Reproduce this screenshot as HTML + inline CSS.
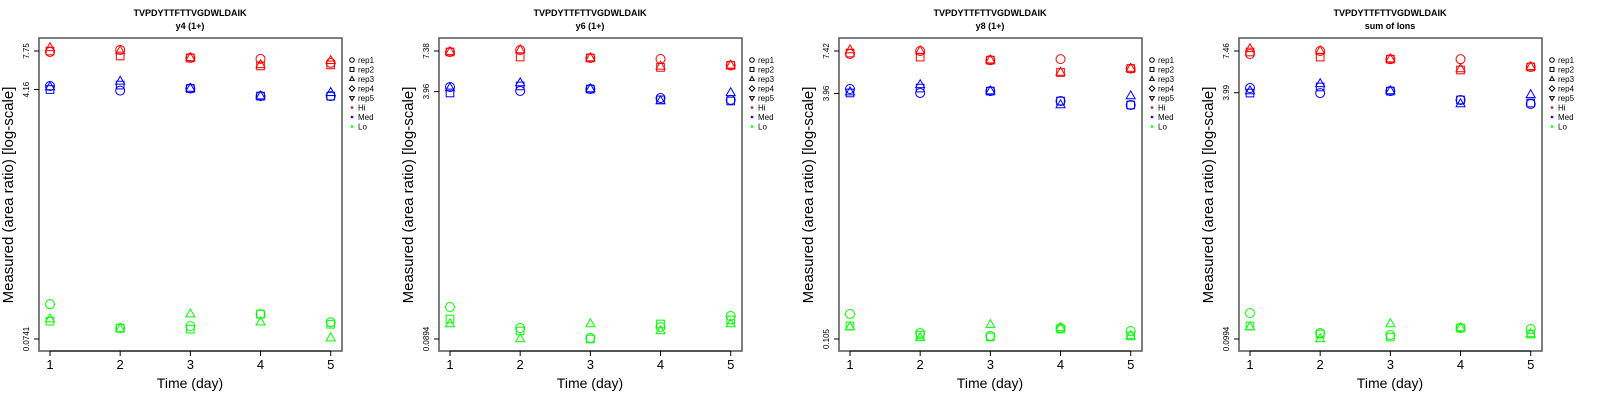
<!DOCTYPE html>
<html><head><meta charset="utf-8"><style>
body{margin:0;background:#fff;width:1600px;height:400px;overflow:hidden}
svg{display:block;font-family:"Liberation Sans",sans-serif}
</style></head><body>
<svg id="chart" width="1600" height="400" viewBox="0 0 1600 400"></svg>
<script>
const days=[1,2,3,4,5];
const reps=["rep1","rep2","rep3","rep4","rep5"];
const groups=["Hi","Med","Lo"];
const groupColors=["#ff0000","#0000ff","#00ff00"];
const panelTitles=["y4 (1+)","y6 (1+)","y8 (1+)","sum of Ions"];
const yTop=[7.75,7.38,7.42,7.46];
const yMid=[4.16,3.96,3.96,3.99];
const yBot=[0.0741,0.0894,0.105,0.0994];
const yTopLabel=["7.75","7.38","7.42","7.46"];
const yMidLabel=["4.16","3.96","3.96","3.99"];
const yBotLabel=["0.0741","0.0894","0.105","0.0994"];
// values[day][rep] (rep1..rep3 measured; rep4, rep5 absent)
const p1Hi=[[7.63,7.75,8.15],[7.88,7.15,7.75],[6.93,6.93,6.93],[6.82,6.09,6.19],[6.40,6.19,6.61]];
const p1Med=[[4.40,4.16,4.33],[4.09,4.47,4.74],[4.23,4.23,4.23],[3.74,3.74,3.74],[3.74,3.74,3.95]];
const p1Lo=[[0.130,0.0988,0.102],[0.0883,0.0883,0.0869],[0.0912,0.0869,0.1107],[0.1107,0.1107,0.0972],[0.0972,0.0941,0.0751]];
const p2Hi=[[7.27,7.27,7.27],[7.49,6.73,7.49],[6.63,6.63,6.63],[6.53,5.74,5.83],[5.92,5.92,5.92]];
const p2Med=[[4.25,3.88,4.18],[4.00,4.32,4.52],[4.12,4.12,4.12],[3.59,3.49,3.43],[3.49,3.43,3.88]];
const p2Lo=[[0.1459,0.1214,0.1125],[0.1058,0.1011,0.0894],[0.0908,0.0894,0.1125],[0.1075,0.1125,0.1011],[0.1271,0.1196,0.1125]];
const p3Hi=[[7.10,7.20,7.53],[7.42,6.78,7.42],[6.48,6.48,6.48],[6.58,5.40,5.40],[5.72,5.72,5.72]];
const p3Med=[[4.23,3.99,4.04],[3.99,4.29,4.49],[4.10,4.10,4.10],[3.54,3.54,3.34],[3.34,3.34,3.81]];
const p3Lo=[[0.1520,0.1273,0.1254],[0.1148,0.1114,0.1066],[0.1098,0.1082,0.1292],[0.1236,0.1217,0.1236],[0.1182,0.1098,0.1098]];
const p4Hi=[[7.13,7.35,7.69],[7.46,6.81,7.46],[6.60,6.60,6.60],[6.60,5.61,5.69],[5.87,5.87,5.87]];
const p4Med=[[4.28,3.97,4.09],[3.97,4.35,4.55],[4.09,4.09,4.09],[3.58,3.58,3.37],[3.37,3.42,3.86]];
const p4Lo=[[0.1468,0.1208,0.1190],[0.1088,0.1071,0.0994],[0.1055,0.1024,0.1244],[0.1172,0.1172,0.1172],[0.1155,0.1071,0.1071]];
const panelData=[[p1Hi,p1Med,p1Lo],[p2Hi,p2Med,p2Lo],[p3Hi,p3Med,p3Lo],[p4Hi,p4Med,p4Lo]];

const NS="http://www.w3.org/2000/svg";
const svg=document.getElementById('chart');
function mk(tag,attrs,parent){const e=document.createElementNS(NS,tag);for(const k in attrs)e.setAttribute(k,attrs[k]);(parent||svg).appendChild(e);return e;}
function marker(shape,x,y,color,parent,size){
  const r=size||4.5;let e;
  if(shape===0)e=mk('circle',{cx:x,cy:y,r:r},parent);
  else if(shape===1)e=mk('rect',{x:x-r*0.85,y:y-r*0.85,width:r*1.7,height:r*1.7},parent);
  else if(shape===2)e=mk('polygon',{points:`${x},${y-r*1.15} ${x-r},${y+r*0.6} ${x+r},${y+r*0.6}`},parent);
  else if(shape===3)e=mk('polygon',{points:`${x},${y-r*1.2} ${x+r*1.2},${y} ${x},${y+r*1.2} ${x-r*1.2},${y}`},parent);
  else e=mk('polygon',{points:`${x},${y+r*1.15} ${x-r},${y-r*0.6} ${x+r},${y-r*0.6}`},parent);
  e.setAttribute('fill','none');e.setAttribute('stroke',color);e.setAttribute('stroke-width','1');
  return e;
}
for(let p=0;p<4;p++){
  const ox=p*400;
  const g=mk('g',{transform:`translate(${ox},0)`});
  
  
  const xS=d=>50+(d-1)*(330.7-50)/4;
  const lt=Math.log(yTop[p]),lb=Math.log(yBot[p]);
  const yS=v=>51+(lt-Math.log(v))/(lt-lb)*288;
  let t=mk('text',{x:190,y:16,'text-anchor':'middle','font-size':'9','font-weight':'bold'},g);t.textContent="TVPDYTTFTTVGDWLDAIK";
  
  t=mk('text',{x:190,y:29,'text-anchor':'middle','font-size':'9','font-weight':'bold'},g);t.textContent=panelTitles[p];
  
  const box=mk('rect',{x:39,y:38,width:303,height:313,fill:'none',stroke:'#555','stroke-width':'1.5'},g);
  
  days.forEach(d=>{
    const x=xS(d);
    mk('line',{x1:x,x2:x,y1:351,y2:356,stroke:'#000'},g);
    const l=mk('text',{x:x,y:369,'text-anchor':'middle','font-size':'13'},g);l.textContent=d;
    
  });
  mk('line',{x1:xS(1),x2:xS(5),y1:351,y2:351,stroke:'#000'},g);
  t=mk('text',{x:190,y:388,'text-anchor':'middle','font-size':'14'},g);t.textContent="Time (day)";
  
  const yt=[[yTop[p],yTopLabel[p]],[yMid[p],yMidLabel[p]],[yBot[p],yBotLabel[p]]];
  yt.forEach(([v,lab])=>{
    const y=yS(v);
    mk('line',{x1:34,x2:39,y1:y,y2:y,stroke:'#000'},g);
    const l=mk('text',{x:0,y:0,'text-anchor':'middle','font-size':'8',transform:`translate(29,${y}) rotate(-90)`},g);l.textContent=lab;
    
  });
  t=mk('text',{x:0,y:0,'text-anchor':'middle','font-size':'15',transform:'translate(13,195) rotate(-90)'},g);t.textContent="Measured (area ratio) [log-scale]";
  
  for(let gi=0;gi<3;gi++){
    const vals=panelData[p][gi];
    for(let di=0;di<days.length;di++){
      for(let ri=0;ri<vals[di].length;ri++){
        const m=marker(ri,xS(days[di]),yS(vals[di][ri]),groupColors[gi],g);
        
        
      }
    }
  }
  const lg=mk('g',{},g);
  
  reps.forEach((r,i)=>{
    const y=60+i*9.5;
    const m=marker(i,352,y,'#000',lg,2.3);
    
    const l=mk('text',{x:358,y:y+3,'font-size':'8'},lg);l.textContent=r;
    
  });
  groups.forEach((gn,i)=>{
    const y=107.5+i*9.5;
    const d=mk('circle',{cx:352,cy:y,r:1.3,fill:groupColors[i]},lg);
    
    const l=mk('text',{x:358,y:y+3,'font-size':'8'},lg);l.textContent=gn;
    
  });
}
</script>
</body></html>
